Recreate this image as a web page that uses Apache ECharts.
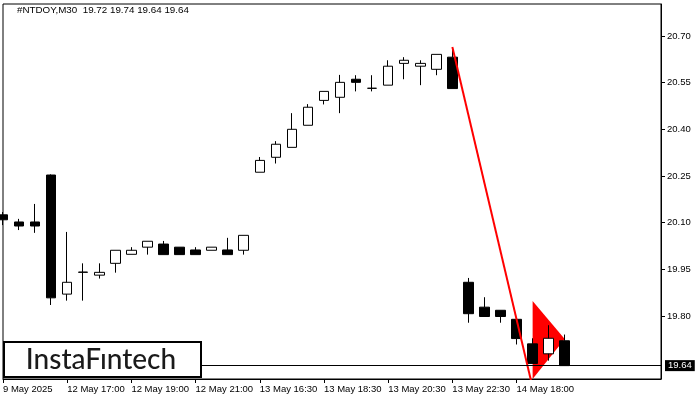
<!DOCTYPE html>
<html>
<head>
<meta charset="utf-8">
<script src="https://cdn.jsdelivr.net/npm/echarts@6/dist/echarts.min.js"></script>
<style>
html,body{margin:0;padding:0;background:#fff;}
#chart{width:700px;height:400px;}
</style>
</head>
<body>
<div id="chart"></div>
<script>
// ---- data ----
const symbol = '#NTDOY';
const timeframe = 'M30';
const categories = [
  '2025-05-09 21:30','2025-05-09 22:00','2025-05-09 22:30','2025-05-12 16:30',
  '2025-05-12 17:00','2025-05-12 17:30','2025-05-12 18:00','2025-05-12 18:30',
  '2025-05-12 19:00','2025-05-12 19:30','2025-05-12 20:00','2025-05-12 20:30',
  '2025-05-12 21:00','2025-05-12 21:30','2025-05-12 22:00','2025-05-12 22:30',
  '2025-05-13 16:30','2025-05-13 17:00','2025-05-13 17:30','2025-05-13 18:00',
  '2025-05-13 18:30','2025-05-13 19:00','2025-05-13 19:30','2025-05-13 20:00',
  '2025-05-13 20:30','2025-05-13 21:00','2025-05-13 21:30','2025-05-13 22:00',
  '2025-05-13 22:30','2025-05-14 16:30','2025-05-14 17:00','2025-05-14 17:30',
  '2025-05-14 18:00','2025-05-14 18:30','2025-05-14 19:00','2025-05-14 19:30',
  '2025-05-14 20:00','2025-05-14 20:30','2025-05-14 21:00','2025-05-14 21:30',
  '2025-05-14 22:00','2025-05-14 22:30'
];
const opens = [20.125,20.102,20.102,20.253,19.870,19.940,19.931,19.969,19.998,20.021,
  20.031,20.021,20.012,20.011,20.012,20.011,20.262,20.310,20.342,20.413,
  20.493,20.503,20.561,20.532,20.542,20.612,20.603,20.593,20.632,19.908,
  19.828,19.818,19.789,19.710,19.678,19.72];
const highs = [20.134,20.112,20.160,20.255,20.070,19.969,19.969,20.011,20.021,20.040,
  20.041,20.021,20.021,20.021,20.051,20.059,20.311,20.362,20.452,20.481,
  20.522,20.575,20.574,20.574,20.622,20.632,20.622,20.641,20.664,19.922,
  19.860,19.818,19.789,19.728,19.770,19.74];
const lows = [20.092,20.076,20.067,19.835,19.849,19.849,19.920,19.939,19.998,19.997,
  19.997,19.997,19.997,20.011,19.997,19.997,20.262,20.290,20.342,20.413,
  20.480,20.452,20.522,20.522,20.542,20.561,20.542,20.574,20.531,19.778,
  19.798,19.778,19.708,19.647,19.656,19.64];
const closes = [20.109,20.089,20.089,19.858,19.908,19.941,19.940,20.011,20.011,20.040,
  19.997,19.997,19.997,20.021,19.997,20.059,20.300,20.352,20.400,20.471,
  20.522,20.551,20.551,20.532,20.603,20.622,20.612,20.641,20.531,19.807,
  19.798,19.798,19.727,19.647,19.728,19.64];
const tickLabels = ['9 May 2025','12 May 17:00','12 May 19:00','12 May 21:00',
  '13 May 16:30','13 May 18:30','13 May 20:30','13 May 22:30','14 May 18:00'];
const yTicks = [19.80, 19.95, 20.10, 20.25, 20.40, 20.55, 20.70];
const yMin = 19.597, yMax = 20.803;
const lastPrice = 19.64;
const poleLine = [[28, 20.665], [33, 19.57]];
const pennant = [[33, 19.848], [35, 19.726], [33, 19.597]];

// ---- chart ----
const candleData = opens.map((o, i) => [o, closes[i], lows[i], highs[i]]);
const n = opens.length - 1;
const titleText = symbol + ',' + timeframe + '  ' +
  [opens[n], highs[n], lows[n], closes[n]].map(v => v.toFixed(2)).join(' ');
const showTick = (i) => i % 4 === 0 && i / 4 < tickLabels.length;

const chart = echarts.init(document.getElementById('chart'), null, {renderer: 'canvas'});
const FONT = '"Liberation Sans", Arial, sans-serif';
chart.setOption({
  animation: false,
  backgroundColor: '#ffffff',
  title: {
    text: titleText, left: 17, top: 5, padding: 0,
    textStyle: {fontSize: 9.8, fontWeight: 'normal', color: '#000', fontFamily: FONT}
  },
  grid: {left: 2, right: 39, top: 4, bottom: 21, show: true, borderColor: '#000', borderWidth: 1, backgroundColor: '#fff'},
  xAxis: {
    type: 'category', data: categories, boundaryGap: false,
    axisLine: {show: true, lineStyle: {color: '#000', width: 1}},
    axisTick: {show: true, interval: showTick, length: 4, lineStyle: {color: '#000'}},
    axisLabel: {
      interval: showTick, align: 'left', margin: 5,
      formatter: (v, i) => tickLabels[i / 4] || '',
      fontSize: 9.5, color: '#000', fontFamily: FONT
    },
    splitLine: {show: false}
  },
  yAxis: {
    type: 'value', position: 'right', min: yMin, max: yMax, scale: true,
    axisLine: {show: true, lineStyle: {color: '#000', width: 1}},
    axisTick: {show: true, length: 4, customValues: yTicks, lineStyle: {color: '#000'}},
    axisLabel: {customValues: yTicks, formatter: (v) => v.toFixed(2), margin: 6,
      fontSize: 9.5, color: '#000', fontFamily: FONT},
    splitLine: {show: false}
  },
  graphic: [
    {type: 'rect', z: 100, shape: {x: 4, y: 342, width: 197, height: 35},
     style: {fill: '#fff', stroke: '#000', lineWidth: 2}},
    {type: 'text', z: 101, x: 101, y: 360,
     style: {text: 'InstaFıntech', font: '500 28px Lato, "Open Sans", sans-serif', fill: '#1a1a1a',
       textAlign: 'center', textVerticalAlign: 'middle'}}
  ],
  series: [
    {
      type: 'custom', z: 1, silent: true,
      data: [pennant[0]],
      renderItem: (params, api) => ({
        type: 'polygon',
        shape: {points: pennant.map(p => api.coord(p))},
        style: {fill: '#ff0000'}
      })
    },
    {
      type: 'candlestick', z: 2, data: candleData, barWidth: 10,
      itemStyle: {color: '#ffffff', color0: '#000000', borderColor: '#000000', borderColor0: '#000000', borderWidth: 1, borderColorDoji: '#000000'},
      markLine: {
        silent: true, symbol: ['none', 'none'],
        lineStyle: {color: '#000', width: 1, type: 'solid'},
        label: {position: 'end', formatter: () => lastPrice.toFixed(2), backgroundColor: '#000', color: '#fff',
          padding: [1, 3, 0, 3], fontSize: 9.5, distance: 4, fontFamily: FONT},
        data: [{yAxis: lastPrice}]
      }
    },
    {
      type: 'line', z: 3, data: poleLine, symbol: 'none', silent: true,
      lineStyle: {color: '#ff0000', width: 2}
    }
  ]
});
</script>
</body>
</html>
